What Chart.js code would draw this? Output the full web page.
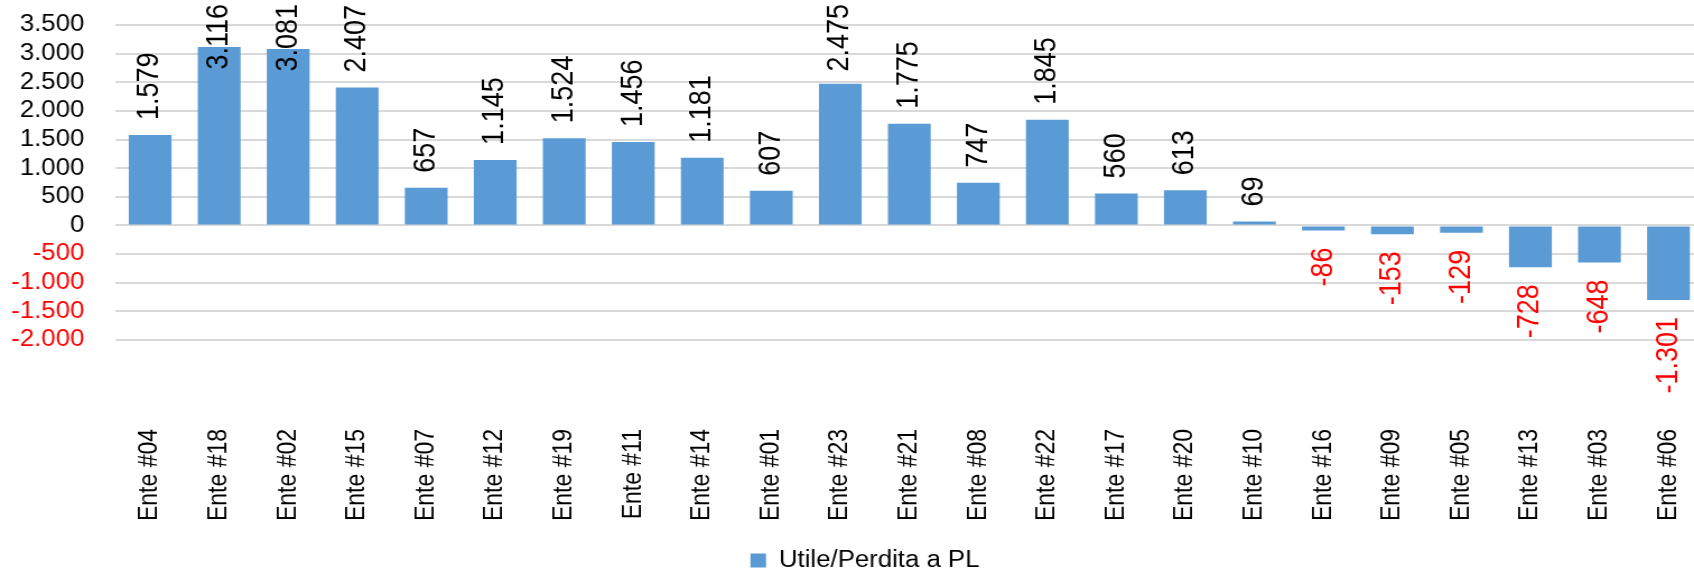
<!DOCTYPE html>
<html><head><meta charset="utf-8">
<script src="https://cdn.jsdelivr.net/npm/chart.js@4"></script>
<style>
html,body{margin:0;padding:0;background:#fff;overflow:hidden;width:1694px;height:575px;}
#wrap{position:absolute;left:0;top:0;width:1520px;height:582px;transform:scaleX(1.12037);transform-origin:0 0;}
</style></head><body>
<div id="wrap"><canvas id="c"></canvas></div>
<script>
const categories = ['Ente #04','Ente #18','Ente #02','Ente #15','Ente #07','Ente #12','Ente #19','Ente #11','Ente #14','Ente #01','Ente #23','Ente #21','Ente #08','Ente #22','Ente #17','Ente #20','Ente #10','Ente #16','Ente #09','Ente #05','Ente #13','Ente #03','Ente #06'];
const values = [1579,3116,3081,2407,657,1145,1524,1456,1181,607,2475,1775,747,1845,560,613,69,-86,-153,-129,-728,-648,-1301];
const seriesName = 'Utile/Perdita a PL';
const yMin = -2000, yMax = 3500, yStep = 500;

const BLUE = '#5B9BD5', RED = '#FF0000', BLACK = '#000000', GRID = '#D9D9D9';
const FONT = '"Liberation Sans", Arial, sans-serif';

function fmt(v){
  const s = v < 0 ? '-' : '';
  const a = Math.abs(Math.round(v)).toString();
  return s + a.replace(/\B(?=(\d{3})+(?!\d))/g, '.');
}

const barLabels = {
  id: 'barLabels',
  afterDatasetsDraw(chart){
    const ctx = chart.ctx;
    const meta = chart.getDatasetMeta(0);
    const data = chart.data.datasets[0].data;
    ctx.save();
    ctx.font = '27px ' + FONT;
    ctx.textBaseline = 'middle';
    meta.data.forEach((bar, i) => {
      const v = data[i];
      const txt = fmt(v);
      const w = ctx.measureText(txt).width;
      ctx.save();
      if (v >= 0) {
        let y0 = bar.y - 15;
        if (y0 - w < 4) y0 = 4 + w;
        ctx.translate(bar.x, y0);
        ctx.rotate(-Math.PI / 2);
        ctx.textAlign = 'left';
        ctx.fillStyle = BLACK;
      } else {
        ctx.translate(bar.x, bar.y + 17);
        ctx.rotate(-Math.PI / 2);
        ctx.textAlign = 'right';
        ctx.fillStyle = RED;
      }
      ctx.fillText(txt, 0, 0);
      ctx.restore();
    });
    ctx.restore();
  }
};

const legendShift = {
  id: 'legendShift',
  afterLayout(chart){
    const l = chart.legend;
    if (l) { l.left += 7; l.right += 7; }
  }
};

Chart.defaults.font.family = FONT;
Chart.defaults.color = BLACK;

new Chart(document.getElementById('c'), {
  type: 'bar',
  data: {
    labels: categories,
    datasets: [{
      label: seriesName,
      data: values,
      backgroundColor: BLUE,
      borderWidth: 0,
      barPercentage: 0.62,
      categoryPercentage: 1
    }]
  },
  options: {
    responsive: true,
    maintainAspectRatio: false,
    animation: false,
    layout: { padding: { top: 25, left: 10, right: 0, bottom: 0 } },
    plugins: {
      legend: {
        position: 'bottom',
        labels: { boxWidth: 14, boxHeight: 14, padding: 4, color: BLACK, font: { size: 23, family: FONT } }
      },
      tooltip: { enabled: false }
    },
    scales: {
      x: {
        grid: { display: true, drawOnChartArea: false, drawTicks: true, tickLength: 89, tickColor: 'rgba(0,0,0,0)', color: 'rgba(0,0,0,0)' },
        border: { display: false },
        ticks: { minRotation: 90, maxRotation: 90, autoSkip: false, padding: 0, color: BLACK, font: { size: 23, family: FONT } },
        afterFit(scale){ scale.height = 205; }
      },
      y: {
        min: yMin, max: yMax,
        grid: { color: GRID, lineWidth: 2, drawTicks: true, tickLength: 28, tickColor: 'rgba(0,0,0,0)' },
        border: { display: false },
        ticks: {
          stepSize: yStep,
          autoSkip: false,
          padding: 0,
          font: { size: 23, family: FONT },
          color: (c) => (c.tick && c.tick.value < 0) ? RED : BLACK,
          callback: (v) => fmt(v)
        }
      }
    }
  },
  plugins: [barLabels, legendShift]
});
</script>
</body></html>
